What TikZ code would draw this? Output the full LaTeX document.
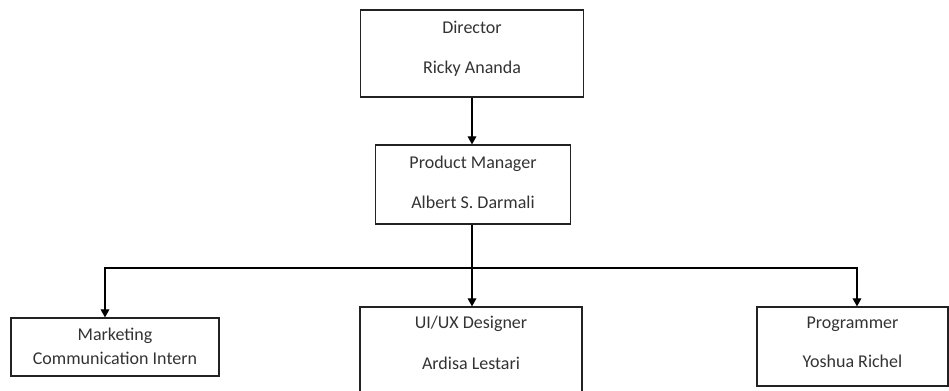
\documentclass[tikz,border=0pt]{standalone}
\usepackage{fontspec}
\setmainfont{Carlito}
\usetikzlibrary{arrows.meta}
\definecolor{txt}{HTML}{333333}
\definecolor{edge}{HTML}{222222}
\begin{document}
\begin{tikzpicture}[x=0.75pt,y=-0.75pt,
  orgbox/.style 2 args={draw=edge, line width=0.9pt, minimum width=#1*0.75pt, minimum height=#2*0.75pt, inner sep=0pt},
  lbl/.style={anchor=base, inner sep=0pt, text=txt, font=\fontsize{13.5}{15}\selectfont},
  conn/.style={draw=black, line width=0.8pt},
  arr/.style={conn, -{Triangle[length=6pt,width=6.5pt]}}]
\useasboundingbox (0,0) rectangle (949,391);
\clip (0,0) rectangle (949,391);
% boxes
\node[orgbox={223}{87}] (dir) at (472,53.5) {};
\node[orgbox={195}{79}] (pm) at (473,184.5) {};
\node[orgbox={208}{58}] (mkt) at (115,347) {};
\node[orgbox={222}{93}] (ui) at (471,353.5) {};
\node[orgbox={191}{79}] (prog) at (852.5,346.5) {};
% labels
\node[lbl] (dir1) at (472,33.3) {Director};
\node[lbl] (dir2) at (472,74) {Ricky Ananda};
\node[lbl] (pm1) at (473,168.3) {Product Manager};
\node[lbl] (pm2) at (473,208.3) {Albert S. Darmali};
\node[lbl] (mkt1) at (115,341) {Marketing};
\node[lbl] (mkt2) at (115,364.3) {Communication Intern};
\node[lbl] (ui1) at (471,329) {UI/UX Designer};
\node[lbl] (ui2) at (471,369) {Ardisa Lestari};
\node[lbl] (prog1) at (852.5,329) {Programmer};
\node[lbl] (prog2) at (852.5,368) {Yoshua Richel};
% connectors
\coordinate (bL) at (105,268);
\coordinate (bR) at (857,268);
\coordinate (bM) at (472,268);
\draw[arr] (dir.south) -- (dir.south |- pm.north);
\draw[conn] (bM |- pm.south) -- (bM);
\draw[arr] (bM) -- (bM |- ui.north);
\draw[arr] (bM) -- (bL) -- (bL |- mkt.north);
\draw[arr] (bM) -- (bR) -- (bR |- prog.north);
\end{tikzpicture}
\end{document}
